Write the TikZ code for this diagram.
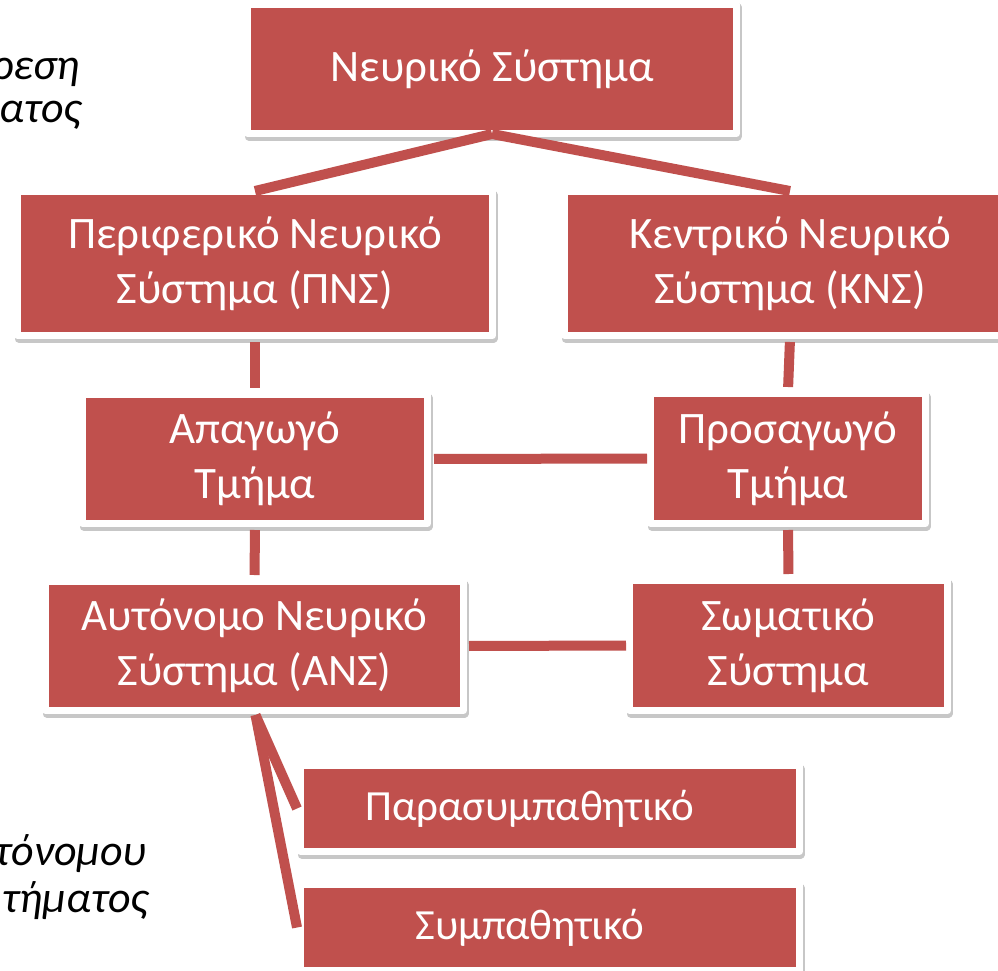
\documentclass[tikz,border=0pt]{standalone}
\usepackage{fontspec}
\setmainfont{Carlito}
\usetikzlibrary{calc}
\definecolor{boxred}{HTML}{C0504D}
\begin{document}
\begin{tikzpicture}[x=1pt,y=-1pt,
  box/.style={draw=white, line width=7pt, fill=boxred, text=white,
    font=\fontsize{45}{55}\selectfont, align=center, inner sep=0pt, line join=round,
    preaction={draw=black, draw opacity=0.22, line width=8pt,
      transform canvas={xshift=1pt,yshift=-3pt}}},
  boxtext/.style={text=white, font=\fontsize{43}{52}\selectfont, align=center, inner sep=0pt},
  conn/.style={draw=boxred, line width=10pt},
  note/.style={font=\itshape\fontsize{44}{47}\selectfont, anchor=base east, inner sep=0pt}]
\useasboundingbox (0,0) rectangle (998,971);
\fill[white] (0,0) rectangle (998,971);
\clip (0,0) rectangle (998,971);

% notes (cut off at the left edge)
\node[note] (n1) at (80,80) {ρεση};
\node[note] (n2) at (82,123) {ατος};
\node[note] (n3) at (147,865) {τόνομου};
\node[note] (n4) at (149,912) {τήματος};

% boxes
\node[box, minimum width=489pt, minimum height=129pt] (ns) at (492,69) {Νευρικό Σύστημα};
\node[box, minimum width=475pt, minimum height=144pt] (pns) at (255,263.5) {Περιφερικό Νευρικό\\Σύστημα (ΠΝΣ)};
\node[box, minimum width=451pt, minimum height=144pt] (kns) at (790,263.5) {Κεντρικό Νευρικό\\Σύστημα (ΚΝΣ)};
\node[box, minimum width=345pt, minimum height=129pt] (apa) at (255,459) {Απαγωγό\\Τμήμα};
\node[box, minimum width=275pt, minimum height=130pt] (pros) at (788,458.5) {Προσαγωγό\\Τμήμα};
\node[box, minimum width=418pt, minimum height=129pt] (ans) at (254.5,646) {Αυτόνομο Νευρικό\\Σύστημα (ΑΝΣ)};
\node[box, minimum width=318pt, minimum height=130pt] (som) at (788.5,645.5) {Σωματικό\\Σύστημα};
\node[box, minimum width=499pt, minimum height=86pt] (para) at (550,808.5) {};
\node[box, minimum width=499pt, minimum height=86pt] (symp) at (550,927.5) {};
\node[boxtext] (paratxt) at ($(para.center)+(-20,0)$) {Παρασυμπαθητικό};
\node[boxtext] (symptxt) at ($(symp.center)+(-20,0)$) {Συμπαθητικό};

% connectors
\draw[conn] ($(ns.south)+(0,-3)$) -- ($(pns.north)+(0,3)$);
\draw[conn] ($(ns.south)+(0,-3)$) -- ($(kns.north)+(0,3)$);
\draw[conn, shorten <=3pt, shorten >=3pt] (pns.south) -- (apa.north);
\draw[conn, shorten <=3pt, shorten >=3pt] (kns.south) -- (pros.north);
\draw[conn, shorten <=3pt] (apa.east) -- (pros.west);
\draw[conn, shorten <=3pt, shorten >=3pt] (apa.south) -- (ans.north);
\draw[conn, shorten <=3pt, shorten >=3pt] (pros.south) -- (som.north);
\draw[conn, shorten <=2pt] (ans.east) -- (som.west);
\coordinate (ansb) at ($(ans.south)+(1,1)$);
\draw[conn] (ansb) -- (para.west);
\draw[conn] (ansb) -- (symp.west);
\end{tikzpicture}
\end{document}
